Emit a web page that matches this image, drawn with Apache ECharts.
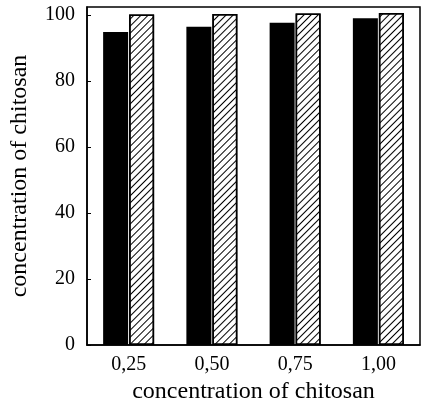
<!DOCTYPE html>
<html>
<head>
<meta charset="utf-8">
<script src="https://cdn.jsdelivr.net/npm/echarts@6/dist/echarts.min.js"></script>
<style>
  html, body { margin: 0; padding: 0; background: #fff; }
  #main { width: 422px; height: 405px; }
</style>
</head>
<body>
<div id="main"></div>
<script>
var categories = ['0,25', '0,50', '0,75', '1,00'];
var solidValues = [94.8, 96.4, 97.6, 99.0];
var hatchValues = [100.1, 100.3, 100.4, 100.6];
var yTicks = [0, 20, 40, 60, 80, 100];

var dom = document.getElementById('main');
var myChart = echarts.init(dom, null, { renderer: 'canvas' });

var serif = 'Liberation Serif';

var option = {
    backgroundColor: '#fff',
    animation: false,
    grid: {
        left: 87,
        right: 2,
        top: 7,
        bottom: 60,
        outerBoundsMode: 'none',
        containLabel: false,
        show: true,
        borderColor: '#000',
        borderWidth: 1.5
    },
    xAxis: {
        type: 'category',
        data: categories,
        name: 'concentration of chitosan',
        nameLocation: 'middle',
        nameGap: 30,
        nameTextStyle: { fontFamily: serif, fontSize: 24, color: '#000' },
        axisLine: { lineStyle: { color: '#000', width: 1.5 } },
        axisTick: { show: false },
        axisLabel: { fontFamily: serif, fontSize: 20, color: '#000', margin: 10 },
        splitLine: { show: false }
    },
    yAxis: {
        type: 'value',
        min: 0,
        max: 102.4,
        name: 'concentration of chitosan',
        nameLocation: 'middle',
        nameGap: 55,
        nameTextStyle: { fontFamily: serif, fontSize: 24, color: '#000' },
        axisLine: { show: true, lineStyle: { color: '#000', width: 1.5 } },
        axisTick: {
            show: true,
            inside: true,
            length: 4,
            customValues: yTicks,
            lineStyle: { color: '#000' }
        },
        axisLabel: {
            fontFamily: serif,
            fontSize: 20,
            color: '#000',
            margin: 12,
            customValues: yTicks
        },
        splitLine: { show: false }
    },
    series: [
        {
            name: 'solid',
            type: 'bar',
            data: solidValues,
            barWidth: 25,
            barGap: '4%',
            itemStyle: { color: '#000' }
        },
        {
            name: 'hatched',
            type: 'bar',
            data: hatchValues,
            barWidth: 25,
            itemStyle: {
                color: '#fff',
                borderColor: '#000',
                borderWidth: 1.5,
                decal: {
                    symbol: 'rect',
                    color: '#000',
                    dashArrayX: [1, 0],
                    dashArrayY: [1, 4],
                    rotation: -Math.PI / 4
                }
            }
        }
    ]
};

myChart.setOption(option);
</script>
</body>
</html>
